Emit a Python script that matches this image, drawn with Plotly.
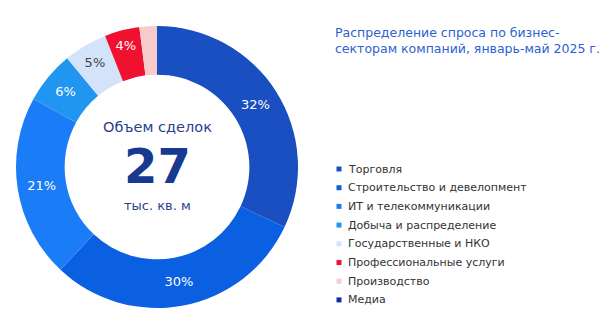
import plotly.graph_objects as go

labels = ["Торговля", "Строительство и девелопмент", "ИТ и телекоммуникации",
          "Добыча и распределение", "Государственные и НКО",
          "Профессиональные услуги", "Производство", "Медиа"]
values = [32, 30, 21, 6, 5, 4, 2, 0]
colors = ["#1a4fc2", "#0a60e0", "#1a7cf6", "#2196f0", "#d3e3f9",
          "#f01030", "#f8cccc", "#0a2fa8"]
text_colors = ["white", "white", "white", "white", "#444444", "white", "white", "white"]
slice_text = ["32%", "30%", "21%", "6%", "5%", "4%", "", ""]

title_lines = ["Распределение спроса по бизнес-", "секторам компаний, январь-май 2025 г."]
center_top = "Объем сделок"
center_value = "27"
center_unit = "тыс. кв. м"

W, H = 613, 324
FONT = "DejaVu Sans"

fig = go.Figure()
fig.add_trace(go.Pie(
    labels=labels, values=values, hole=0.655, sort=False, direction="clockwise",
    rotation=0, marker=dict(colors=colors, line=dict(width=0)),
    text=slice_text, texttemplate="%{text}", textinfo="text",
    textposition="inside", insidetextorientation="horizontal",
    textfont=dict(family=FONT, size=13, color=text_colors),
    domain=dict(x=[16 / W, 298 / W], y=[16 / H, 298 / H]),
    showlegend=False, hoverinfo="label+percent",
))

cx = (16 + 298) / 2 / W
annotations = [
    dict(text=center_top, x=cx, y=1 - 127 / H, font=dict(family=FONT, size=14.5, color="#2b3f8f")),
    dict(text=center_value, x=cx, y=1 - 166 / H, font=dict(family=FONT, size=48, color="#17398f", weight="bold")),
    dict(text=center_unit, x=cx, y=1 - 205 / H, font=dict(family=FONT, size=13, color="#2b3f8f")),
]
for a in annotations:
    a.update(xref="paper", yref="paper", showarrow=False, xanchor="center", yanchor="middle")

annotations.append(dict(
    text="<br>".join(title_lines), x=333 / W, y=1 - 40 / H, xref="paper", yref="paper",
    showarrow=False, xanchor="left", yanchor="middle", align="left",
    font=dict(family=FONT, size=12.5, color="#2d5fd2"),
))

shapes = []
y0 = 169
step = 18.7
for i, (lab, col) in enumerate(zip(labels, colors)):
    yc = y0 + i * step
    shapes.append(dict(type="rect", xref="paper", yref="paper",
                       x0=336.5 / W, x1=341.5 / W, y0=1 - (yc + 2.5) / H, y1=1 - (yc - 2.5) / H,
                       fillcolor=col, line=dict(width=0)))
    annotations.append(dict(text=lab, x=345.5 / W, y=1 - yc / H, xref="paper", yref="paper",
                            showarrow=False, xanchor="left", yanchor="middle",
                            font=dict(family=FONT, size=11, color="#333333")))

fig.update_layout(
    width=W, height=H, margin=dict(l=0, r=0, t=0, b=0),
    paper_bgcolor="white", plot_bgcolor="white",
    annotations=annotations, shapes=shapes,
)
fig.write_html("out.html")
